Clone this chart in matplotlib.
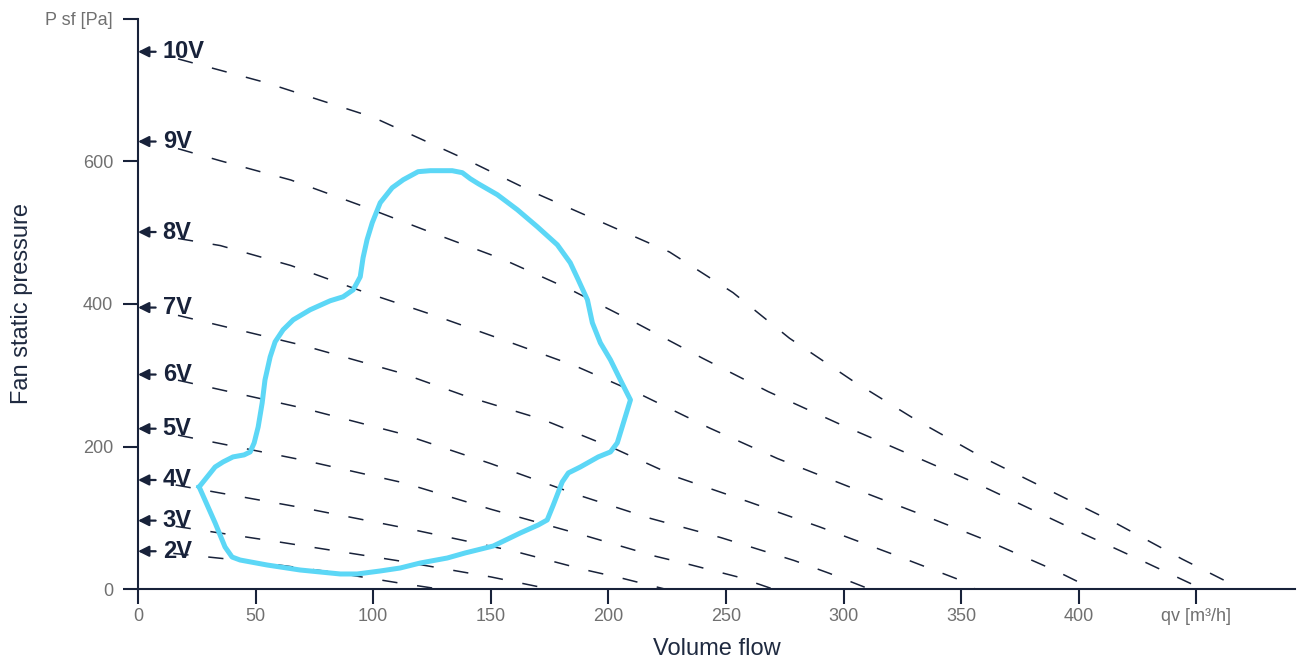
import numpy as np
import matplotlib.pyplot as plt

plt.rcParams['font.family'] = ['Liberation Sans', 'DejaVu Sans']

# fan curves for each control voltage (qv [m3/h], Psf [Pa])
v2_x = [15, 50, 82, 110, 128]
v2_y = [50, 38, 24, 9, 0]
v3_x = [16, 60, 110, 150, 175]
v3_y = [88, 66, 40, 17, 0]
v4_x = [16, 70, 113, 160, 190, 206, 224]
v4_y = [146, 114, 86, 53, 27, 15, 0]
v5_x = [17, 70, 113, 150, 190, 220, 235, 255, 270]
v5_y = [216, 181, 149, 112, 75, 46, 34, 17, 0]
v6_x = [17, 70, 112, 150, 188, 218, 248, 279, 294, 311]
v6_y = [293, 254, 218, 176, 131, 99, 72, 40, 22, 0]
v7_x = [17, 70, 112, 140, 172, 202, 230, 260, 290, 320, 350, 356]
v7_y = [384, 342, 303, 270, 238, 198, 156, 122, 87, 50, 12, 0]
v8_x = [17, 35, 65, 96, 126, 155, 186, 215, 243, 272, 302, 332, 361, 390, 406]
v8_y = [492, 482, 454, 417, 384, 350, 313, 271, 226, 183, 144, 106, 68, 26, 0]
v9_x = [17, 35, 65, 95, 125, 155, 184, 212, 240, 268, 298, 326, 356, 399, 428, 450]
v9_y = [618, 601, 574, 538, 500, 463, 420, 373, 324, 277, 232, 192, 149, 82, 38, 4]
v10_x = [17, 35, 54, 100, 140, 168, 197, 226, 253, 277, 304, 331, 359, 416, 444, 462]
v10_y = [744, 728, 711, 662, 602, 557, 515, 473, 416, 352, 292, 237, 185, 92, 42, 12]

curves_x = [v2_x, v3_x, v4_x, v5_x, v6_x, v7_x, v8_x, v9_x, v10_x]
curves_y = [v2_y, v3_y, v4_y, v5_y, v6_y, v7_y, v8_y, v9_y, v10_y]
volt_labels = ['2V', '3V', '4V', '5V', '6V', '7V', '8V', '9V', '10V']
label_y = [53, 96, 153, 225, 301, 395, 501, 628, 754]

# operating envelope
env_x = [26.0, 32.8, 36.2, 40.4, 45.1, 47.7, 49.4, 51.1, 52.8, 54.0, 56.2, 58.3,
         61.7, 66.0, 73.2, 81.7, 87.2, 91.5, 94.5, 95.7, 97.4, 99.6, 103.0, 108.1,
         112.8, 119.1, 124.3, 133.6, 137.9, 141.3, 144.7, 152.8, 161.3, 169.8,
         178.3, 183.8, 187.2, 191.1, 193.2, 196.6, 200.9, 205.1, 209.4, 206.4,
         203.8, 200.9, 195.7, 188.1, 183.0, 180.4, 176.6, 174.0, 170.2, 162.6,
         151.1, 139.1, 131.5, 120.0, 111.5, 103.0, 93.2, 86.0, 68.9, 54.9, 43.4,
         40.0, 37.0, 32.8, 26.0]
env_y = [143.3, 171.3, 178.4, 185.4, 188.2, 192.4, 205.1, 227.5, 261.2, 293.5,
         325.8, 346.9, 363.8, 377.8, 391.9, 404.5, 410.1, 419.9, 438.2, 464.9,
         490.2, 514.0, 542.1, 563.2, 574.4, 585.7, 587.1, 587.1, 584.3, 575.8,
         568.8, 553.4, 532.3, 508.4, 483.1, 457.9, 434.0, 405.9, 373.6, 345.5,
         321.6, 293.5, 265.4, 233.1, 205.1, 192.4, 185.4, 171.3, 162.9, 150.3,
         118.0, 96.9, 89.9, 78.7, 60.4, 50.6, 43.5, 36.5, 29.5, 25.3, 21.1, 21.1,
         26.7, 33.7, 40.7, 44.9, 59.0, 92.7, 143.3]

x_ticks = [0, 50, 100, 150, 200, 250, 300, 350, 400, 450]
x_tick_labels = ['0', '50', '100', '150', '200', '250', '300', '350', '400', 'qv [m³/h]']
y_ticks = [0, 200, 400, 600, 800]
y_tick_labels = ['0', '200', '400', '600', 'P sf [Pa]']

navy = '#18223a'
grey = '#707070'

fig = plt.figure(figsize=(12.97, 6.59), dpi=100)
ax = fig.add_axes([0.1064, 0.1062, 0.8921, 0.865])

for cx, cy in zip(curves_x, curves_y):
    ax.plot(cx, cy, color=navy, lw=1.1, linestyle=(0, (10, 13)), clip_on=False)

ax.plot(env_x, env_y, color='#5cd7f6', lw=3.6, solid_joinstyle='round', zorder=3)

for lab, ly in zip(volt_labels, label_y):
    ax.annotate('', xy=(0, ly), xytext=(7.5, ly),
                arrowprops=dict(arrowstyle='-|>', color=navy, lw=1.6,
                                mutation_scale=16, shrinkA=0, shrinkB=0))
    ax.text(10.5, ly, lab, fontsize=17, fontweight='bold', color=navy,
            va='center', ha='left')

ax.set_xlim(0, 492)
ax.set_ylim(0, 800)
ax.set_xticks(x_ticks)
ax.set_xticklabels(x_tick_labels)
ax.set_yticks(y_ticks)
ax.set_yticklabels(y_tick_labels)

for s in ['top', 'right']:
    ax.spines[s].set_visible(False)
for s in ['left', 'bottom']:
    ax.spines[s].set_color(navy)
    ax.spines[s].set_linewidth(1.5)

ax.tick_params(axis='both', length=11, width=1.5, color=navy, labelcolor=grey,
               labelsize=13)
ax.tick_params(axis='y', pad=7)
ax.tick_params(axis='x', pad=3)

ax.set_xlabel('Volume flow', fontsize=17, color='#1f2a40', labelpad=9)
ax.set_ylabel('Fan static pressure', fontsize=17, color='#1f2a40', labelpad=9)

fig.savefig('out.png', dpi=100)
